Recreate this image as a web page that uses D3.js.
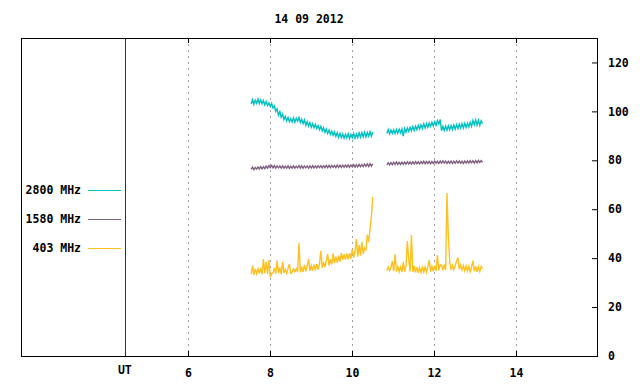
<!DOCTYPE html>
<html>
<head>
<meta charset="utf-8">
<script src="https://cdn.jsdelivr.net/npm/d3@7"></script>
<style>
  body { margin: 0; background: #fff; }
  svg text { font-family: "DejaVu Sans Mono", monospace; font-weight: bold; font-size: 11.5px; fill: #000; }
</style>
</head>
<body>
<div id="chart"></div>
<script>
// samples every 2 minutes, two observing runs
const seg1Start = 7.54, seg2Start = 10.85, stepHours = 2 / 60;
const xTicks = [6, 8, 10, 12, 14];
const yTicks = [0, 20, 40, 60, 80, 100, 120];
const utMark = 4.46;
const legendNames = ["2800 MHz", "1580 MHz", "403 MHz"];
const colors = ["#00c0c0", "#806080", "#ffc020"];

const mhz2800a = [103.0, 104.8, 102.9, 104.6, 103.3, 105.0, 103.2, 104.7, 103.1, 104.4,
  102.6, 104.0, 102.4, 103.5, 102.0, 103.2, 101.4, 102.2, 100.0, 101.0,
  98.4, 99.9, 97.6, 98.9, 96.7, 98.0, 96.1, 97.5, 95.8, 97.1,
  95.7, 97.4, 95.6, 97.2, 96.0, 97.5, 95.5, 96.8, 95.0, 96.5,
  94.3, 95.8, 94.0, 95.4, 93.5, 95.0, 93.3, 94.7, 93.0, 94.2,
  92.5, 93.9, 92.0, 93.3, 91.4, 92.8, 91.0, 92.4, 90.6, 91.9,
  90.2, 91.6, 89.8, 91.3, 89.4, 91.0, 89.3, 90.8, 89.0, 90.6,
  89.1, 90.9, 88.9, 90.6, 89.2, 91.0, 89.0, 90.8, 89.3, 91.2,
  89.4, 91.3, 89.6, 91.5, 89.5, 91.4, 89.8, 91.7, 89.9, 91.6];
const mhz2800b = [91.0, 92.6, 90.8, 92.4, 91.0, 92.5, 90.9, 92.6, 91.1, 92.7,
  91.2, 92.8, 89.9, 93.0, 91.5, 93.2, 91.8, 93.5, 92.1, 93.8,
  92.2, 94.0, 92.5, 94.3, 92.8, 94.5, 93.0, 94.9, 93.2, 95.0,
  93.5, 95.2, 93.8, 95.5, 94.0, 95.8, 94.3, 96.2, 94.8, 96.7,
  92.1, 93.9, 92.2, 94.0, 92.3, 94.1, 92.5, 94.2, 92.5, 94.4,
  92.7, 94.6, 92.9, 94.8, 93.1, 95.0, 93.2, 95.1, 93.4, 95.2,
  93.6, 95.5, 93.9, 96.3, 94.5, 96.5, 94.4, 96.4, 94.3, 96.2,
  95.0];

const mhz1580a = [76.3, 77.2, 76.2, 77.1, 76.4, 77.3, 76.5, 77.4, 76.5, 77.4,
  76.6, 77.6, 76.8, 77.8, 77.0, 77.9, 76.9, 77.8, 76.8, 77.7,
  76.9, 77.7, 76.8, 77.7, 76.8, 77.6, 76.8, 77.7, 76.7, 77.6,
  76.8, 77.7, 76.8, 77.6, 76.9, 77.8, 76.8, 77.7, 76.8, 77.7,
  76.9, 77.7, 76.8, 77.7, 76.9, 77.8, 76.9, 77.7, 76.9, 77.8,
  77.0, 77.8, 76.9, 77.8, 77.0, 77.9, 77.0, 77.9, 77.0, 77.9,
  77.1, 77.9, 77.0, 78.0, 77.1, 78.0, 77.1, 78.0, 77.2, 78.1,
  77.2, 78.1, 77.1, 78.1, 77.3, 78.2, 77.2, 78.2, 77.3, 78.3,
  77.4, 78.3, 77.4, 78.4, 77.5, 78.5, 77.5, 78.6, 77.6, 78.5];
const mhz1580b = [78.1, 79.0, 78.1, 79.1, 78.2, 79.2, 78.3, 79.3, 78.3, 79.2,
  78.3, 79.2, 78.4, 79.3, 78.4, 79.4, 78.5, 79.3, 78.5, 79.4,
  78.5, 79.5, 78.6, 79.4, 78.5, 79.5, 78.6, 79.6, 78.6, 79.5,
  78.7, 79.6, 78.6, 79.5, 78.7, 79.7, 78.8, 79.6, 78.7, 79.7,
  78.8, 79.8, 78.9, 79.7, 78.7, 79.6, 78.8, 79.7, 78.7, 79.6,
  78.8, 79.8, 78.9, 79.7, 78.8, 79.6, 78.7, 79.7, 78.9, 79.8,
  78.9, 79.9, 79.0, 79.8, 78.9, 79.9, 79.0, 80.0, 79.1, 79.9,
  79.2];

const mhz403a = [33.5, 37.0, 33.2, 35.6, 33.6, 35.8, 33.7, 36.0, 33.4, 39.6,
  33.9, 38.5, 33.6, 39.2, 32.2, 33.6, 33.9, 36.0, 33.7, 39.0,
  33.9, 36.2, 33.5, 38.5, 34.0, 35.4, 33.8, 35.9, 37.6, 33.8,
  34.3, 35.6, 34.5, 35.7, 34.4, 46.3, 34.2, 36.5, 34.4, 37.2,
  34.6, 36.9, 39.6, 34.8, 37.0, 34.9, 37.3, 35.0, 37.6, 35.3,
  37.6, 43.0, 36.0, 38.4, 36.2, 39.0, 41.7, 37.0, 39.6, 37.4,
  42.0, 38.0, 40.6, 38.2, 41.0, 38.5, 42.2, 39.3, 41.6, 39.4,
  41.9, 39.6, 42.0, 39.8, 43.7, 40.2, 42.5, 47.8, 40.6, 45.4,
  41.0, 46.7, 41.8, 44.2, 43.4, 49.5, 46.6, 52.0, 57.0, 65.0];
const mhz403b = [34.8, 36.4, 34.9, 36.2, 38.8, 34.7, 41.7, 34.5, 36.5, 34.4,
  36.4, 34.3, 38.4, 34.5, 36.6, 47.0, 39.6, 34.6, 49.5, 34.3,
  36.8, 34.2, 36.3, 34.0, 36.2, 34.1, 36.3, 34.3, 36.4, 34.3,
  36.5, 39.2, 34.5, 36.7, 34.6, 36.9, 34.7, 41.3, 35.0, 37.2,
  37.2, 35.0, 37.4, 35.1, 66.6, 49.0, 38.5, 35.2, 37.2, 35.3,
  37.0, 38.8, 40.2, 35.4, 37.3, 35.2, 37.0, 34.8, 36.8, 34.7,
  36.7, 34.5, 36.6, 39.0, 34.6, 36.7, 34.4, 36.5, 34.5, 36.6,
  35.8];

const series = [
  [mhz2800a, mhz2800b],
  [mhz1580a, mhz1580b],
  [mhz403a, mhz403b]
];

const width = 640, height = 384;
const m = { left: 21, right: 597, top: 38, bottom: 356 };

const svg = d3.select("#chart").append("svg")
  .attr("width", width)
  .attr("height", height);

const x = d3.scaleLinear()
  .domain([6 - (188 - m.left) / 41, 6 + (m.right - 188) / 41])
  .range([m.left, m.right]);
const y = d3.scaleLinear().domain([0, 130]).range([m.bottom, m.top]);

// dashed hour grid
svg.append("g").selectAll("line").data(xTicks).join("line")
  .attr("x1", d => Math.round(x(d)) + 0.5).attr("x2", d => Math.round(x(d)) + 0.5)
  .attr("y1", m.top).attr("y2", m.bottom)
  .attr("stroke", "#a0a0a0").attr("stroke-dasharray", "2,4");

// UT marker line
svg.append("line")
  .attr("x1", Math.round(x(utMark)) + 0.5).attr("x2", Math.round(x(utMark)) + 0.5)
  .attr("y1", m.top).attr("y2", m.bottom)
  .attr("stroke", "#a00000");

// bottom axis, ticks pointing inward
const xAxis = svg.append("g")
  .attr("transform", `translate(0,${m.bottom})`)
  .call(d3.axisBottom(x).tickValues(xTicks).tickSizeInner(-5).tickSizeOuter(0).tickPadding(13));
xAxis.select(".domain").remove();
xAxis.selectAll("text").attr("font-family", null).attr("font-size", null);

xAxis.append("text")
  .attr("x", x(utMark)).attr("y", 18)
  .attr("text-anchor", "middle")
  .text("UT");

// mirror ticks at top
svg.append("g").selectAll("line").data(xTicks).join("line")
  .attr("x1", d => Math.round(x(d)) + 0.5).attr("x2", d => Math.round(x(d)) + 0.5)
  .attr("y1", m.top).attr("y2", m.top + 5)
  .attr("stroke", "#000");

// right axis
const yAxis = svg.append("g")
  .attr("transform", `translate(${m.right},0)`)
  .call(d3.axisRight(y).tickValues(yTicks).tickSizeInner(-5).tickSizeOuter(0).tickPadding(11));
yAxis.select(".domain").remove();
yAxis.selectAll("text").attr("font-family", null).attr("font-size", null);

// border
svg.append("rect")
  .attr("x", m.left + 0.5).attr("y", m.top + 0.5)
  .attr("width", m.right - m.left).attr("height", m.bottom - m.top)
  .attr("fill", "none").attr("stroke", "#000");

// title
svg.append("text")
  .attr("x", 309).attr("y", 23)
  .attr("text-anchor", "middle")
  .text("14 09 2012");

const line = d3.line()
  .x(d => x(d.t))
  .y(d => y(d.v));

const plot = svg.append("g");
series.forEach((segs, k) => {
  [seg1Start, seg2Start].forEach((start, j) => {
    const pts = segs[j].map((v, i) => ({ t: start + i * stepHours, v: v }));
    plot.append("path")
      .datum(pts)
      .attr("fill", "none")
      .attr("stroke", colors[k])
      .attr("stroke-width", 1.4)
      .attr("d", line);
  });
});

// legend
const legend = svg.append("g");
legendNames.forEach((name, k) => {
  const ly = 190 + k * 29;
  legend.append("text")
    .attr("x", 81).attr("y", ly + 4)
    .attr("text-anchor", "end")
    .text(name);
  legend.append("line")
    .attr("x1", 88).attr("x2", 121)
    .attr("y1", ly + 0.5).attr("y2", ly + 0.5)
    .attr("stroke", colors[k]);
});
</script>
</body>
</html>
